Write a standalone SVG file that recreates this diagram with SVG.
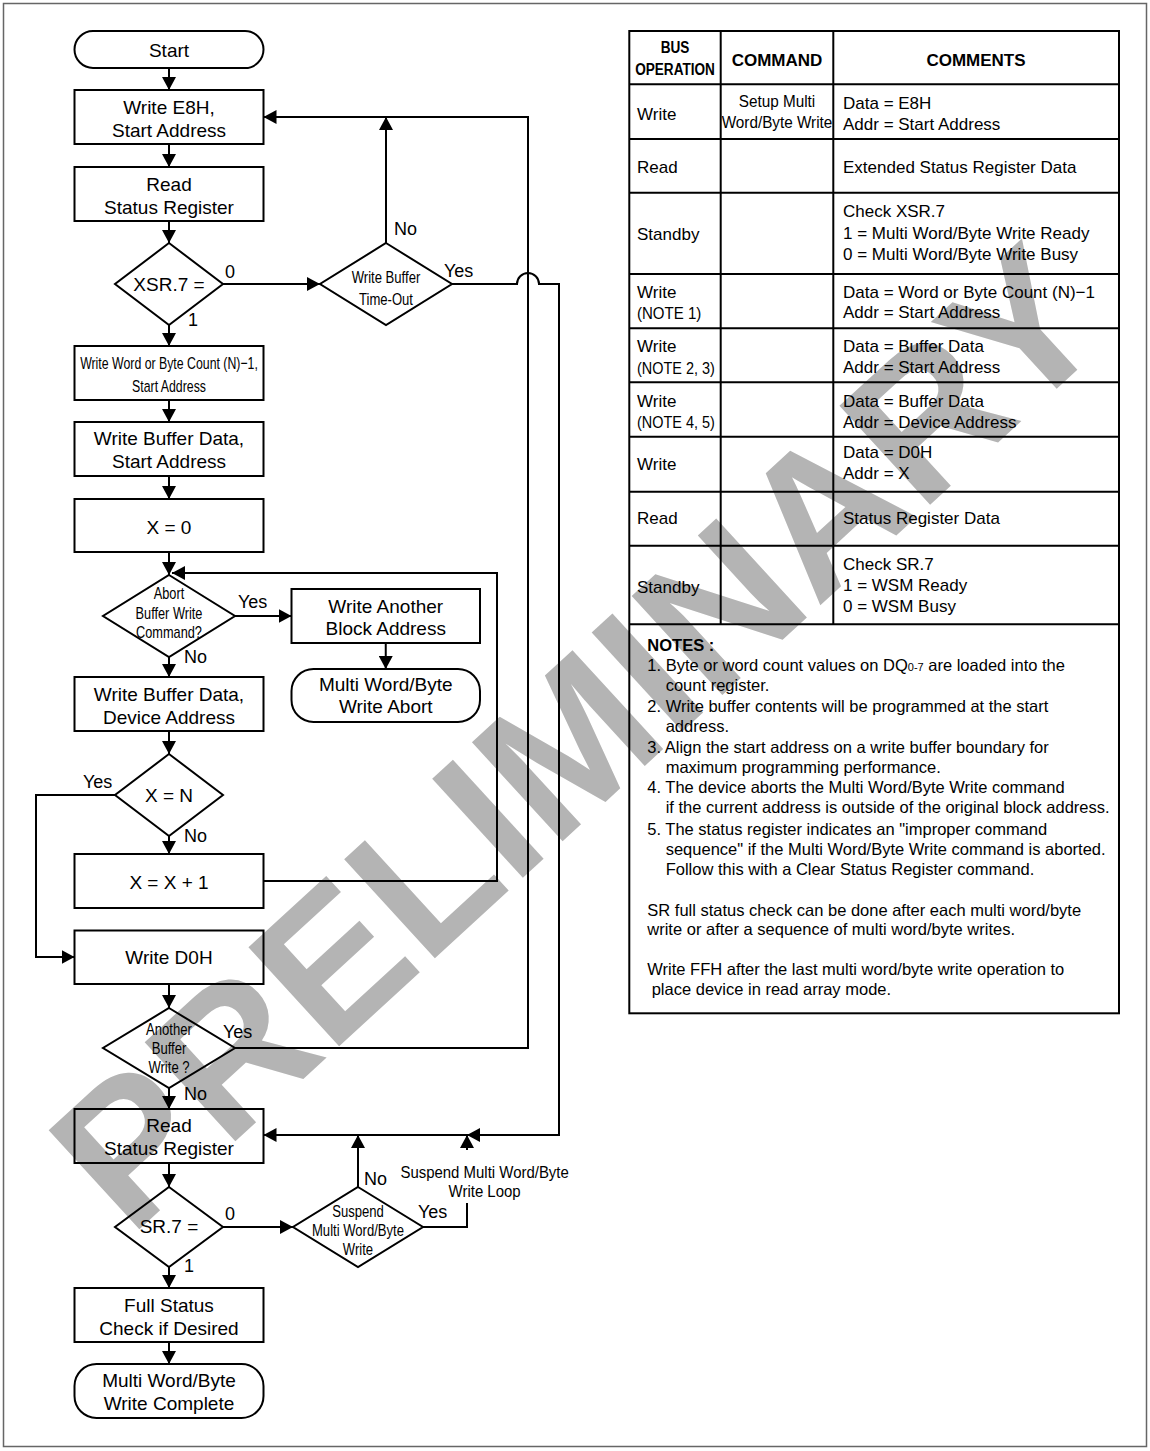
<svg xmlns="http://www.w3.org/2000/svg" width="1150" height="1451" viewBox="0 0 1150 1451">
<style>
text{font-family:"Liberation Sans",Arial,sans-serif;fill:#000}
.t{font-size:19px;text-anchor:middle}
.c{font-size:17px;text-anchor:middle}
.lb{font-size:18px}
.tb{font-size:17px}
.hd{font-size:17px;font-weight:bold;text-anchor:middle}
.nt{font-size:16.5px}
.shape{fill:none;stroke:#000;stroke-width:2}
.ln{fill:none;stroke:#000;stroke-width:2}
.arr{marker-end:url(#ah)}
.wm{font-size:195px;font-weight:bold;fill:#b4b4b4;text-anchor:middle}
</style>
<defs>
<marker id="ah" markerUnits="userSpaceOnUse" markerWidth="14" markerHeight="14" refX="13" refY="7" orient="auto">
<path d="M0,0 L13,7 L0,14 z" fill="#000"/>
</marker>
</defs>
<rect x="0" y="0" width="1150" height="1451" fill="#fff"/>
<rect x="3.5" y="3.5" width="1143" height="1443" fill="none" stroke="#666" stroke-width="1.5"/>
<g id="watermark">
<text class="wm" transform="translate(575,735) rotate(-42.5)" x="0" y="70">PRELIMINARY</text>
</g>

<g id="connectors">
<path class="ln arr" d="M169,68 V90"/>
<path class="ln arr" d="M169,144 V167"/>
<path class="ln arr" d="M169,221 V243"/>
<path class="ln arr" d="M169,325 V346"/>
<path class="ln arr" d="M169,400 V422"/>
<path class="ln arr" d="M169,476 V499"/>
<path class="ln arr" d="M169,552 V575"/>
<path class="ln arr" d="M169,657 V677"/>
<path class="ln arr" d="M235,616 H291.5"/>
<path class="ln arr" d="M385.75,643 V669"/>
<path class="ln arr" d="M169,731 V754"/>
<path class="ln arr" d="M169,836 V854"/>
<path class="ln arr" d="M115,795 H36 V957 H74.5"/>
<path class="ln arr" d="M263.5,881 H497 V573 H172"/>
<path class="ln arr" d="M169,984 V1008"/>
<path class="ln arr" d="M235,1048 H528 V117 H263.5"/>
<path class="ln arr" d="M223,284 H320"/>
<path class="ln arr" d="M386,243 V117"/>
<path class="ln arr" d="M452,284 H517 A11,11 0 0 1 539,284 H559 V1135 H467"/>
<path class="ln arr" d="M467,1135 H263.5"/>
<path class="ln arr" d="M169,1088 V1109"/>
<path class="ln arr" d="M169,1163 V1187"/>
<path class="ln arr" d="M223,1227 H293"/>
<path class="ln arr" d="M358,1187 V1135"/>
<path class="ln" d="M423,1227 H467 V1203"/>
<path class="ln arr" d="M467,1150 V1135"/>
<path class="ln arr" d="M169,1267 V1288"/>
<path class="ln arr" d="M169,1342 V1364"/>
</g>

<g id="labels">
<text class="lb" x="394" y="235">No</text>
<text class="lb" x="444" y="277">Yes</text>
<text class="lb" x="225" y="278">0</text>
<text class="lb" x="188" y="326">1</text>
<text class="lb" x="238" y="608">Yes</text>
<text class="lb" x="184" y="663">No</text>
<text class="lb" x="83" y="788">Yes</text>
<text class="lb" x="184" y="842">No</text>
<text class="lb" x="223" y="1038">Yes</text>
<text class="lb" x="184" y="1100">No</text>
<text class="lb" x="364" y="1185">No</text>
<text class="lb" x="418" y="1218">Yes</text>
<text class="lb" x="225" y="1220">0</text>
<text class="lb" x="184" y="1272">1</text>
<text class="c" transform="translate(484.6,1178) scale(0.88,1)">Suspend Multi Word/Byte</text>
<text class="c" transform="translate(484.6,1197) scale(0.88,1)">Write Loop</text>
</g>

<g id="n-start">
<rect class="shape" x="74.5" y="31" width="189" height="37" rx="18.5"/>
<text class="t" x="169" y="57">Start</text>
</g>
<g id="n-write-e8h">
<rect class="shape" x="74.5" y="90" width="189" height="54"/>
<text class="t" x="169" y="114">Write E8H,</text>
<text class="t" x="169" y="137">Start Address</text>
</g>
<g id="n-read-xsr">
<rect class="shape" x="74.5" y="167" width="189" height="54"/>
<text class="t" x="169" y="190.5">Read</text>
<text class="t" x="169" y="213.5">Status Register</text>
</g>
<g id="n-xsr7">
<path class="shape" d="M169,243 L223,284 L169,325 L115,284 Z"/>
<text class="t" x="169" y="291">XSR.7 =</text>
</g>
<g id="n-timeout">
<path class="shape" d="M386,243 L452,284 L386,325 L320,284 Z"/>
<text class="c" transform="translate(386,282.7) scale(0.77,1)">Write Buffer</text>
<text class="c" transform="translate(386,305) scale(0.77,1)">Time-Out</text>
</g>
<g id="n-count">
<rect class="shape" x="74.5" y="346" width="189" height="54"/>
<text class="c" transform="translate(169,369.3) scale(0.725,1)">Write Word or Byte Count (N)−1,</text>
<text class="c" transform="translate(169,391.7) scale(0.725,1)">Start Address</text>
</g>
<g id="n-wbd-start">
<rect class="shape" x="74.5" y="422" width="189" height="54"/>
<text class="t" x="169" y="445">Write Buffer Data,</text>
<text class="t" x="169" y="468">Start Address</text>
</g>
<g id="n-x0">
<rect class="shape" x="74.5" y="499" width="189" height="53"/>
<text class="t" x="169" y="533.5">X = 0</text>
</g>
<g id="n-abort">
<path class="shape" d="M169,575 L235,616 L169,657 L103,616 Z"/>
<text class="c" transform="translate(169,599) scale(0.75,1)">Abort</text>
<text class="c" transform="translate(169,618.7) scale(0.75,1)">Buffer Write</text>
<text class="c" transform="translate(169,637.7) scale(0.75,1)">Command?</text>
</g>
<g id="n-another-block">
<rect class="shape" x="291.5" y="589" width="188.5" height="54"/>
<text class="t" x="385.75" y="612.7">Write Another</text>
<text class="t" x="385.75" y="635">Block Address</text>
</g>
<g id="n-abort-end">
<rect class="shape" x="291.5" y="669" width="188.5" height="53" rx="22"/>
<text class="t" x="385.75" y="691">Multi Word/Byte</text>
<text class="t" x="385.75" y="713.3">Write Abort</text>
</g>
<g id="n-wbd-device">
<rect class="shape" x="74.5" y="677" width="189" height="54"/>
<text class="t" x="169" y="701">Write Buffer Data,</text>
<text class="t" x="169" y="724">Device Address</text>
</g>
<g id="n-xn">
<path class="shape" d="M169,754 L223,795 L169,836 L115,795 Z"/>
<text class="t" x="169" y="801.7">X = N</text>
</g>
<g id="n-xinc">
<rect class="shape" x="74.5" y="854" width="189" height="54"/>
<text class="t" x="169" y="889.3">X = X + 1</text>
</g>
<g id="n-d0h">
<rect class="shape" x="74.5" y="930.5" width="189" height="53.5"/>
<text class="t" x="169" y="964">Write D0H</text>
</g>
<g id="n-another-buffer">
<path class="shape" d="M169,1008 L235,1048 L169,1088 L103,1048 Z"/>
<text class="c" transform="translate(169,1035) scale(0.77,1)">Another</text>
<text class="c" transform="translate(169,1054) scale(0.77,1)">Buffer</text>
<text class="c" transform="translate(169,1073.3) scale(0.77,1)">Write ?</text>
</g>
<g id="n-read-sr">
<rect class="shape" x="74.5" y="1109" width="189" height="54"/>
<text class="t" x="169" y="1131.7">Read</text>
<text class="t" x="169" y="1155">Status Register</text>
</g>
<g id="n-sr7">
<path class="shape" d="M169,1187 L223,1227 L169,1267 L115,1227 Z"/>
<text class="t" x="169" y="1233">SR.7 =</text>
</g>
<g id="n-suspend">
<path class="shape" d="M358,1187 L423,1227 L358,1267 L293,1227 Z"/>
<text class="c" transform="translate(358,1217) scale(0.77,1)">Suspend</text>
<text class="c" transform="translate(358,1235.5) scale(0.77,1)">Multi Word/Byte</text>
<text class="c" transform="translate(358,1254.5) scale(0.77,1)">Write</text>
</g>
<g id="n-full-status">
<rect class="shape" x="74.5" y="1288" width="189" height="54"/>
<text class="t" x="169" y="1312.3">Full Status</text>
<text class="t" x="169" y="1335">Check if Desired</text>
</g>
<g id="n-complete">
<rect class="shape" x="74.5" y="1364" width="189" height="54" rx="22"/>
<text class="t" x="169" y="1387.3">Multi Word/Byte</text>
<text class="t" x="169" y="1410">Write Complete</text>
</g>

<g id="table">
<g class="ln">
<rect x="629.3" y="31" width="489.7" height="982.3" fill="none"/>
<path d="M720.7,31 V624.3 M833.3,31 V624.3"/>
<path d="M629.3,84.3 H1119 M629.3,139 H1119 M629.3,192.7 H1119 M629.3,274 H1119 M629.3,328.3 H1119 M629.3,382.3 H1119 M629.3,436.7 H1119 M629.3,491.7 H1119 M629.3,545.7 H1119 M629.3,624.3 H1119"/>
</g>
<text class="hd" transform="translate(675,53) scale(0.8,1)">BUS</text>
<text class="hd" transform="translate(675,75) scale(0.8,1)">OPERATION</text>
<text class="hd" x="777" y="66">COMMAND</text>
<text class="hd" x="976" y="66">COMMENTS</text>

<text class="tb" x="637" y="120">Write</text>
<text class="tb" text-anchor="middle" font-size="15" transform="translate(777,107.3) scale(0.9,1)">Setup Multi</text>
<text class="tb" text-anchor="middle" font-size="15" transform="translate(777,128.3) scale(0.9,1)">Word/Byte Write</text>
<text class="tb" x="843" y="109.3">Data = E8H</text>
<text class="tb" x="843" y="130">Addr = Start Address</text>

<text class="tb" x="637" y="172.7">Read</text>
<text class="tb" x="843" y="172.7">Extended Status Register Data</text>

<text class="tb" x="637" y="240">Standby</text>
<text class="tb" x="843" y="217.3">Check XSR.7</text>
<text class="tb" x="843" y="239.3">1 = Multi Word/Byte Write Ready</text>
<text class="tb" x="843" y="260">0 = Multi Word/Byte Write Busy</text>

<text class="tb" x="637" y="297.7">Write</text>
<text class="tb" transform="translate(637,319.3) scale(0.885,1)">(NOTE 1)</text>
<text class="tb" x="843" y="297.7">Data = Word or Byte Count (N)−1</text>
<text class="tb" x="843" y="318.3">Addr = Start Address</text>

<text class="tb" x="637" y="352.3">Write</text>
<text class="tb" transform="translate(637,374) scale(0.85,1)">(NOTE 2, 3)</text>
<text class="tb" x="843" y="352.3">Data = Buffer Data</text>
<text class="tb" x="843" y="373.3">Addr = Start Address</text>

<text class="tb" x="637" y="406.7">Write</text>
<text class="tb" transform="translate(637,427.7) scale(0.85,1)">(NOTE 4, 5)</text>
<text class="tb" x="843" y="406.7">Data = Buffer Data</text>
<text class="tb" x="843" y="427.7">Addr = Device Address</text>

<text class="tb" x="637" y="470">Write</text>
<text class="tb" x="843" y="458.3">Data = D0H</text>
<text class="tb" x="843" y="479.3">Addr = X</text>

<text class="tb" x="637" y="524">Read</text>
<text class="tb" x="843" y="524">Status Register Data</text>

<text class="tb" x="637" y="593.3">Standby</text>
<text class="tb" x="843" y="570">Check SR.7</text>
<text class="tb" x="843" y="590.7">1 = WSM Ready</text>
<text class="tb" x="843" y="612.3">0 = WSM Busy</text>

<text class="nt" x="647.3" y="650.7" font-weight="bold">NOTES :</text>
<text class="nt" x="647.3" y="670.7">1. Byte or word count values on DQ<tspan font-size="11">0-7</tspan> are loaded into the</text>
<text class="nt" x="665.7" y="690.7">count register.</text>
<text class="nt" x="647.3" y="711.7">2. Write buffer contents will be programmed at the start</text>
<text class="nt" x="665.7" y="731.7">address.</text>
<text class="nt" x="647.3" y="752.7">3. Align the start address on a write buffer boundary for</text>
<text class="nt" x="665.7" y="772.7">maximum programming performance.</text>
<text class="nt" x="647.3" y="792.7">4. The device aborts the Multi Word/Byte Write command</text>
<text class="nt" x="665.7" y="812.7">if the current address is outside of the original block address.</text>
<text class="nt" x="647.3" y="835">5. The status register indicates an "improper command</text>
<text class="nt" x="665.7" y="855">sequence" if the Multi Word/Byte Write command is aborted.</text>
<text class="nt" x="665.7" y="875">Follow this with a Clear Status Register command.</text>
<text class="nt" x="647.3" y="916">SR full status check can be done after each multi word/byte</text>
<text class="nt" x="647.3" y="935">write or after a sequence of multi word/byte writes.</text>
<text class="nt" x="647.3" y="975">Write FFH after the last multi word/byte write operation to</text>
<text class="nt" x="651.7" y="995">place device in read array mode.</text>
</g>
</svg>
